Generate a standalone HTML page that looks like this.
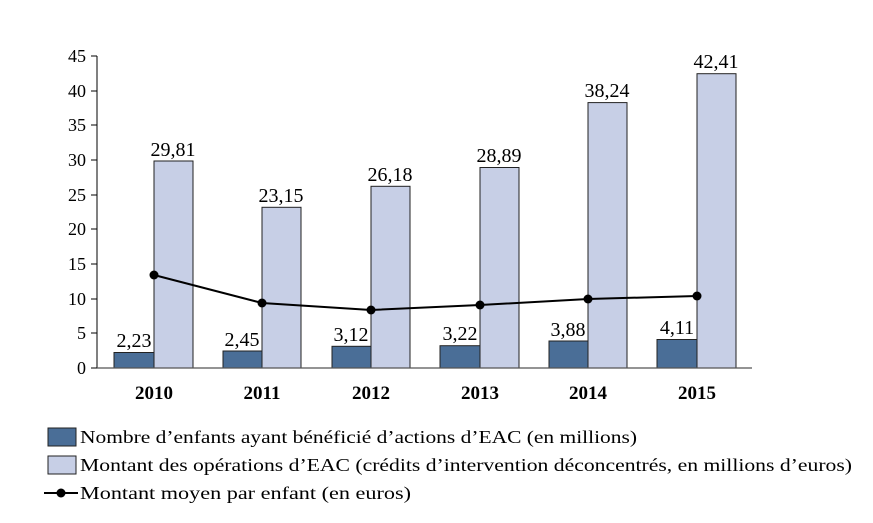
<!DOCTYPE html>
<html><head><style>body{margin:0;background:#fff}</style></head><body>
<svg width="873" height="518" xmlns="http://www.w3.org/2000/svg" font-family="Liberation Serif, serif">
<rect width="873" height="518" fill="#fff"/>
<g font-size="18" text-anchor="end" fill="#000">
<text x="86" y="374">0</text><text x="86" y="339">5</text><text x="86" y="305">10</text><text x="86" y="270">15</text><text x="86" y="235">20</text><text x="86" y="201">25</text><text x="86" y="166">30</text><text x="86" y="131">35</text><text x="86" y="97">40</text><text x="86" y="62">45</text>
</g>
<g stroke="#000" stroke-width="1">
<line x1="97" y1="56" x2="97" y2="368"/>
<line x1="91" y1="368" x2="97" y2="368"/><line x1="91" y1="333" x2="97" y2="333"/><line x1="91" y1="299" x2="97" y2="299"/><line x1="91" y1="264" x2="97" y2="264"/><line x1="91" y1="229" x2="97" y2="229"/><line x1="91" y1="195" x2="97" y2="195"/><line x1="91" y1="160" x2="97" y2="160"/><line x1="91" y1="125" x2="97" y2="125"/><line x1="91" y1="91" x2="97" y2="91"/><line x1="91" y1="56" x2="97" y2="56"/>
</g>
<g stroke="#222" stroke-width="1">
<rect x="114" y="352.5" width="40" height="15.5" fill="#4a6e97"/><rect x="154" y="161" width="39" height="207" fill="#c7cfe6"/>
<rect x="223" y="351" width="39" height="17" fill="#4a6e97"/><rect x="262" y="207.3" width="39" height="160.7" fill="#c7cfe6"/>
<rect x="332" y="346.3" width="39" height="21.7" fill="#4a6e97"/><rect x="371" y="186.3" width="39" height="181.7" fill="#c7cfe6"/>
<rect x="440" y="345.7" width="40" height="22.3" fill="#4a6e97"/><rect x="480" y="167.5" width="39" height="200.5" fill="#c7cfe6"/>
<rect x="549" y="341" width="39" height="27" fill="#4a6e97"/><rect x="588" y="102.6" width="39" height="265.4" fill="#c7cfe6"/>
<rect x="657" y="339.5" width="40" height="28.5" fill="#4a6e97"/><rect x="697" y="73.7" width="39" height="294.3" fill="#c7cfe6"/>
</g>
<line x1="97" y1="368" x2="752" y2="368" stroke="#555" stroke-width="1.2"/>
<polyline points="154,275 262,303 371,310 480,305 588,299 697,296" fill="none" stroke="#000" stroke-width="2"/>
<g fill="#000"><circle cx="154" cy="275" r="4.5"/><circle cx="262" cy="303" r="4.5"/><circle cx="371" cy="310" r="4.5"/><circle cx="480" cy="305" r="4.5"/><circle cx="588" cy="299" r="4.5"/><circle cx="697" cy="296" r="4.5"/></g>
<g font-size="20" text-anchor="middle">
<text x="134" y="347">2,23</text><text x="173" y="156">29,81</text>
<text x="242" y="346">2,45</text><text x="281" y="202">23,15</text>
<text x="351" y="341">3,12</text><text x="390" y="181">26,18</text>
<text x="460" y="340">3,22</text><text x="499" y="162">28,89</text>
<text x="568" y="336">3,88</text><text x="607" y="97">38,24</text>
<text x="677" y="334">4,11</text><text x="716" y="68">42,41</text>
</g>
<g font-size="19" font-weight="bold" text-anchor="middle">
<text x="154" y="399">2010</text><text x="262" y="399">2011</text><text x="371" y="399">2012</text><text x="480" y="399">2013</text><text x="588" y="399">2014</text><text x="697" y="399">2015</text>
</g>
<rect x="48" y="428" width="28" height="18" fill="#4a6e97" stroke="#222"/>
<rect x="48" y="456" width="28" height="18" fill="#c7cfe6" stroke="#222"/>
<line x1="44" y1="493" x2="78" y2="493" stroke="#000" stroke-width="2"/><circle cx="61" cy="493" r="4.5"/>
<g font-size="18">
<text x="80" y="443" textLength="557" lengthAdjust="spacingAndGlyphs">Nombre d’enfants ayant bénéficié d’actions d’EAC (en millions)</text>
<text x="80" y="471" textLength="772" lengthAdjust="spacingAndGlyphs">Montant des opérations d’EAC (crédits d’intervention déconcentrés, en millions d’euros)</text>
<text x="80" y="499" textLength="331" lengthAdjust="spacingAndGlyphs">Montant moyen par enfant (en euros)</text>
</g>
</svg>
</body></html>
